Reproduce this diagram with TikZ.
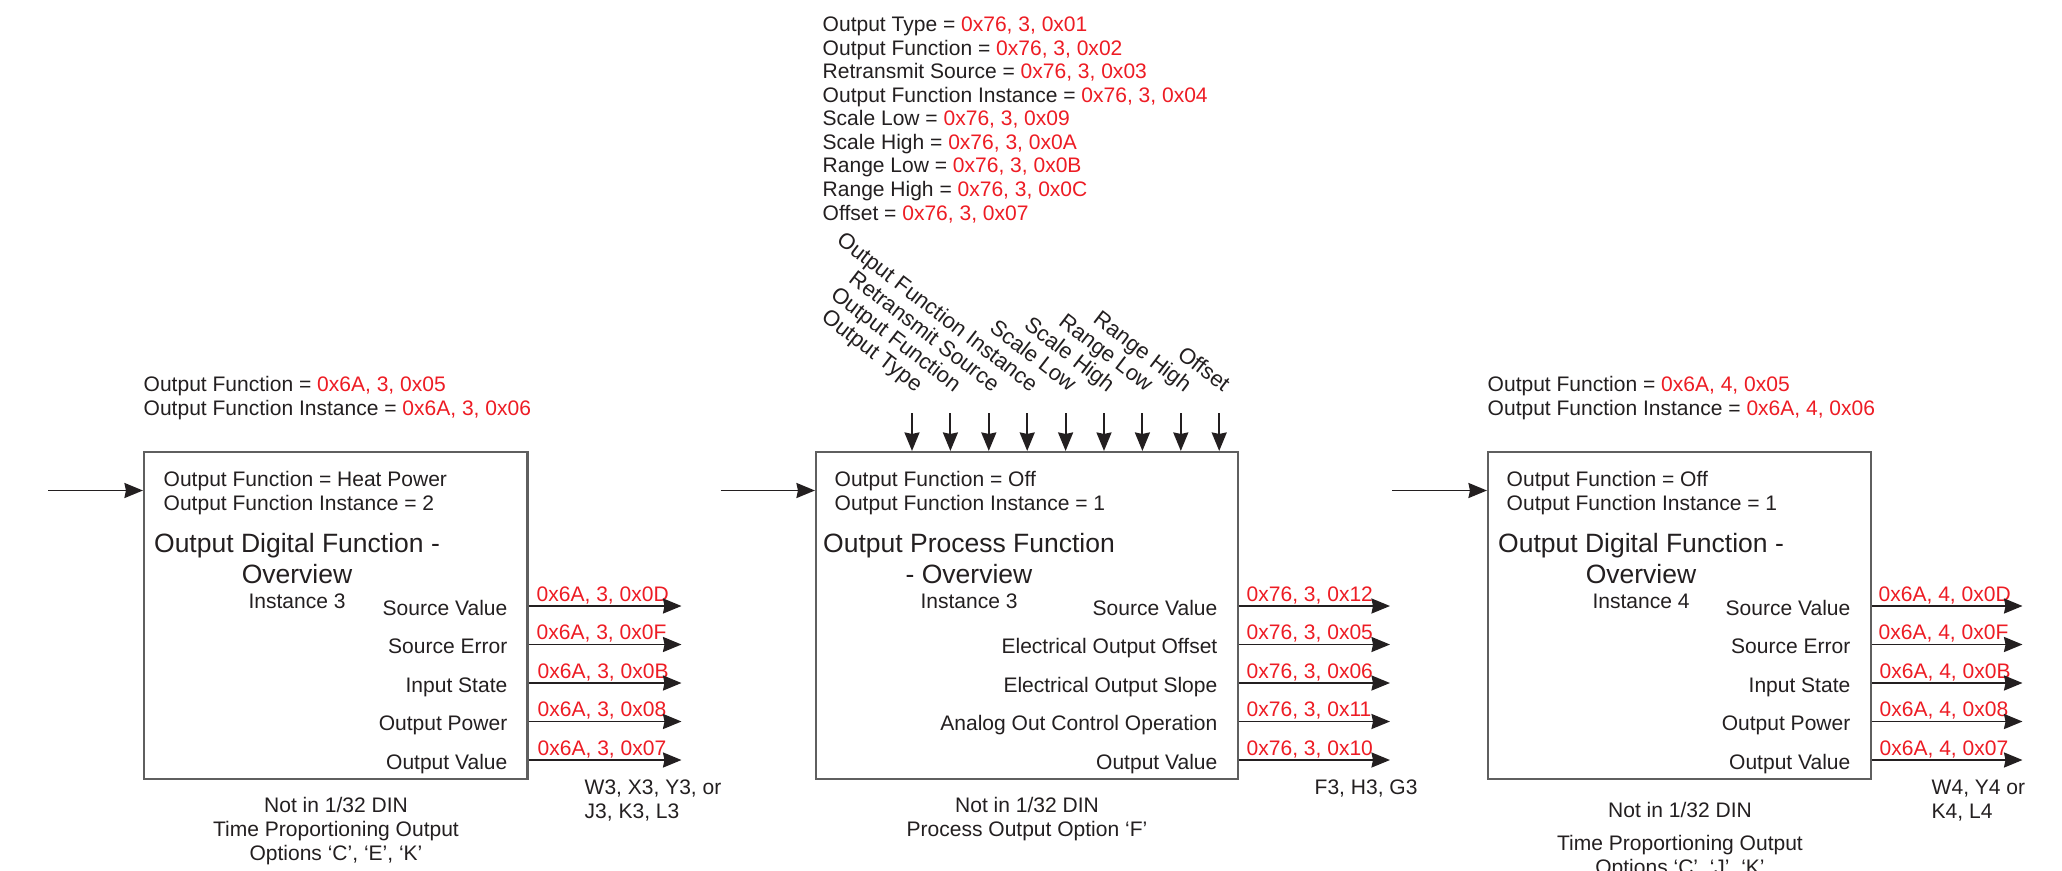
\documentclass[tikz,border=0pt]{standalone}
\usepackage{fontspec}
\setmainfont{Liberation Sans}
\usetikzlibrary{arrows.meta}
\definecolor{ink}{RGB}{35,31,32}
\definecolor{hexred}{RGB}{237,28,36}
\definecolor{frame}{RGB}{95,95,95}
\newcommand{\hx}[1]{\textcolor{hexred}{#1}}
\tikzset{
  every node/.style={text=ink, inner sep=0, font=\fontsize{5.98}{6.8}\selectfont},
  fnbox/.style={draw=frame, line width=0.6pt, minimum height=32.7mm},
  fntitle/.style={align=center, anchor=base, font=\fontsize{7.54}{8.54}\selectfont},
  sig/.style={anchor=mid east},
  reg/.style={text=hexred, anchor=base west},
  parlab/.style={anchor=base east, rotate=-37.5, font=\fontsize{6.26}{7}\selectfont},
  blk/.style={align=left, anchor=base west},
  note/.style={align=center, anchor=base},
  arr/.style={draw=ink, line width=0.55pt, -{Stealth[length=1.85mm, width=1.5mm, inset=0.15mm]}}
}

\begin{document}
\begin{tikzpicture}[x=0.1mm,y=-0.1mm]
\useasboundingbox (0,0) rectangle (2062,871);

\node[blk, font=\fontsize{5.98}{6.69}\selectfont] (prm) at (822,220) {Output Type = \hx{0x76, 3, 0x01}\\
Output Function = \hx{0x76, 3, 0x02}\\
Retransmit Source = \hx{0x76, 3, 0x03}\\
Output Function Instance = \hx{0x76, 3, 0x04}\\
Scale Low = \hx{0x76, 3, 0x09}\\
Scale High = \hx{0x76, 3, 0x0A}\\
Range Low = \hx{0x76, 3, 0x0B}\\
Range High = \hx{0x76, 3, 0x0C}\\
Offset = \hx{0x76, 3, 0x07}};

\node[fnbox, minimum width=38.35mm] (b1) at (335.75,615.5) {};
\node[fnbox, minimum width=42.16mm] (b2) at (1026.8,615.5) {};
\node[fnbox, minimum width=38.3mm] (b3) at (1679.5,615.5) {};

\node[blk] (a1) at (143,415) {Output Function = \hx{0x6A, 3, 0x05}\\Output Function Instance = \hx{0x6A, 3, 0x06}};
\node[blk] (a3) at (1487,415) {Output Function = \hx{0x6A, 4, 0x05}\\Output Function Instance = \hx{0x6A, 4, 0x06}};

\node[blk] (c1) at (163,510) {Output Function = Heat Power\\Output Function Instance = 2};
\node[blk] (c2) at (834,510) {Output Function = Off\\Output Function Instance = 1};
\node[blk] (c3) at (1506,510) {Output Function = Off\\Output Function Instance = 1};

\node[fntitle] (t1) at (297,583) {Output Digital Function -\\Overview};
\node[fntitle] (t2) at (969,583) {Output Process Function\\- Overview};
\node[fntitle] (t3) at (1641,583) {Output Digital Function -\\Overview};
\node[anchor=base] (k1) at (297,608) {Instance 3};
\node[anchor=base] (k2) at (969,608) {Instance 3};
\node[anchor=base] (k3) at (1641,608) {Instance 4};

\coordinate (i1) at (48,490.5);
\coordinate (i2) at (720.5,490.5);
\coordinate (i3) at (1392,490.5);
\draw[arr] (i1) -- (i1 -| b1.west);
\draw[arr] (i2) -- (i2 -| b2.west);
\draw[arr] (i3) -- (i3 -| b3.west);

\coordinate (p1) at (912,413);
\coordinate (p2) at (950.4,413);
\coordinate (p3) at (988.8,413);
\coordinate (p4) at (1027.2,413);
\coordinate (p5) at (1065.6,413);
\coordinate (p6) at (1104,413);
\coordinate (p7) at (1142.4,413);
\coordinate (p8) at (1180.8,413);
\coordinate (p9) at (1219.2,413);
\node[parlab] (n1) at (916,393) {Output Type};
\node[parlab] (n2) at (954.4,393) {Output Function};
\node[parlab] (n3) at (992.8,393) {Retransmit Source};
\node[parlab] (n4) at (1031.2,393) {Output Function Instance};
\node[parlab] (n5) at (1069.6,393) {Scale Low};
\node[parlab] (n6) at (1108,393) {Scale High};
\node[parlab] (n7) at (1146.4,393) {Range Low};
\node[parlab] (n8) at (1184.8,393) {Range High};
\node[parlab] (n9) at (1223.2,393) {Offset};
\draw[arr] (p1) -- (p1 |- b2.north);
\draw[arr] (p2) -- (p2 |- b2.north);
\draw[arr] (p3) -- (p3 |- b2.north);
\draw[arr] (p4) -- (p4 |- b2.north);
\draw[arr] (p5) -- (p5 |- b2.north);
\draw[arr] (p6) -- (p6 |- b2.north);
\draw[arr] (p7) -- (p7 |- b2.north);
\draw[arr] (p8) -- (p8 |- b2.north);
\draw[arr] (p9) -- (p9 |- b2.north);

\node[sig] (s11) at (508,606) {Source Value};
\node[sig] (s12) at (508,644.5) {Source Error};
\node[sig] (s13) at (508,683) {Input State};
\node[sig] (s14) at (508,721.5) {Output Power};
\node[sig] (s15) at (508,760) {Output Value};
\node[reg] (h11) at (536,601) {0x6A, 3, 0x0D};
\node[reg] (h12) at (536,639.5) {0x6A, 3, 0x0F};
\node[reg] (h13) at (537,678) {0x6A, 3, 0x0B};
\node[reg] (h14) at (537,716.5) {0x6A, 3, 0x08};
\node[reg] (h15) at (537,755) {0x6A, 3, 0x07};
\coordinate (o11) at (681.5,606);
\coordinate (o12) at (681.5,644.5);
\coordinate (o13) at (681.5,683);
\coordinate (o14) at (681.5,721.5);
\coordinate (o15) at (681.5,760);
\draw[arr] (o11 -| b1.east) -- (o11);
\draw[arr] (o12 -| b1.east) -- (o12);
\draw[arr] (o13 -| b1.east) -- (o13);
\draw[arr] (o14 -| b1.east) -- (o14);
\draw[arr] (o15 -| b1.east) -- (o15);

\node[sig] (s21) at (1218,606) {Source Value};
\node[sig] (s22) at (1218,644.5) {Electrical Output Offset};
\node[sig] (s23) at (1218,683) {Electrical Output Slope};
\node[sig] (s24) at (1218,721.5) {Analog Out Control Operation};
\node[sig] (s25) at (1218,760) {Output Value};
\node[reg] (h21) at (1246,601) {0x76, 3, 0x12};
\node[reg] (h22) at (1246,639.5) {0x76, 3, 0x05};
\node[reg] (h23) at (1246,678) {0x76, 3, 0x06};
\node[reg] (h24) at (1246,716.5) {0x76, 3, 0x11};
\node[reg] (h25) at (1246,755) {0x76, 3, 0x10};
\coordinate (o21) at (1390,606);
\coordinate (o22) at (1390,644.5);
\coordinate (o23) at (1390,683);
\coordinate (o24) at (1390,721.5);
\coordinate (o25) at (1390,760);
\draw[arr] (o21 -| b2.east) -- (o21);
\draw[arr] (o22 -| b2.east) -- (o22);
\draw[arr] (o23 -| b2.east) -- (o23);
\draw[arr] (o24 -| b2.east) -- (o24);
\draw[arr] (o25 -| b2.east) -- (o25);

\node[sig] (s31) at (1851,606) {Source Value};
\node[sig] (s32) at (1851,644.5) {Source Error};
\node[sig] (s33) at (1851,683) {Input State};
\node[sig] (s34) at (1851,721.5) {Output Power};
\node[sig] (s35) at (1851,760) {Output Value};
\node[reg] (h31) at (1878,601) {0x6A, 4, 0x0D};
\node[reg] (h32) at (1878,639.5) {0x6A, 4, 0x0F};
\node[reg] (h33) at (1879,678) {0x6A, 4, 0x0B};
\node[reg] (h34) at (1879,716.5) {0x6A, 4, 0x08};
\node[reg] (h35) at (1879,755) {0x6A, 4, 0x07};
\coordinate (o31) at (2022.5,606);
\coordinate (o32) at (2022.5,644.5);
\coordinate (o33) at (2022.5,683);
\coordinate (o34) at (2022.5,721.5);
\coordinate (o35) at (2022.5,760);
\draw[arr] (o31 -| b3.east) -- (o31);
\draw[arr] (o32 -| b3.east) -- (o32);
\draw[arr] (o33 -| b3.east) -- (o33);
\draw[arr] (o34 -| b3.east) -- (o34);
\draw[arr] (o35 -| b3.east) -- (o35);

\node[blk] (f1) at (584,818) {W3, X3, Y3, or\\J3, K3, L3};
\node[blk] (f2) at (1314,794) {F3, H3, G3};
\node[blk] (f3) at (1931,818) {W4, Y4 or\\K4, L4};

\node[note] (d1) at (336,860) {Not in 1/32 DIN\\Time Proportioning Output\\Options ‘C’, ‘E’, ‘K’};
\node[note] (d2) at (1027,836) {Not in 1/32 DIN\\Process Output Option ‘F’};
\node[note] (d3) at (1680,874) {Not in 1/32 DIN\\[0.9mm]Time Proportioning Output\\Options ‘C’, ‘J’, ‘K’};
\end{tikzpicture}
\end{document}
